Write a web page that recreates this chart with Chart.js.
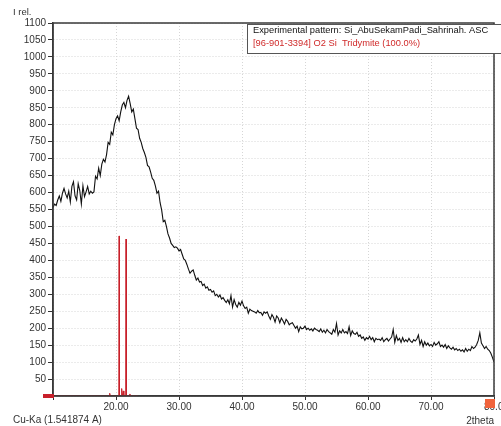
<!DOCTYPE html>
<html lang="en">
<head>
<meta charset="UTF-8">
<title>XRD pattern Si_AbuSekamPadi_Sahrinah</title>
<script src="https://cdn.jsdelivr.net/npm/chart.js"></script>
<style>
    html, body { margin: 0; padding: 0; background: #fff; }
    #wrap { width: 501px; height: 426px; position: relative; }
</style>
</head>
<body>
<div id="wrap"><canvas id="xrdChart"></canvas></div>
<script>
    // measured pattern: 2theta from 10 to 80 deg, one value every 0.25 deg
    const thetaStart = 10;
    const thetaStep = 0.25;
    const intensity = [
        556, 566, 562, 578,  590, 574, 598, 612,  596, 584, 604, 572,  618, 632, 590, 578,
        626, 606, 566, 620,  588, 602, 618, 596,  604, 598, 602, 648,  640, 672, 650, 684,
        698, 690, 712, 748,  742, 778, 770, 800,  818, 826, 812, 838,  858, 866, 850, 872,
        884, 862, 838, 846,  818, 790, 786, 760,  748, 730, 718, 704,  680, 676, 660, 642,
        636, 620, 598, 604,  570, 548, 514, 518,  500, 478, 466, 450,  444, 438, 440, 436,
        428, 432, 418, 404,  400, 388, 374, 362,  368, 372, 356, 342,  348, 336, 338, 326,
        330, 318, 322, 312,  314, 306, 310, 296,  300, 292, 298, 286,  290, 282, 276, 284,
        272, 296, 262, 284,  270, 262, 276, 268,  280, 266, 258, 262,  244, 256, 252, 250,
        248, 244, 252, 246,  246, 238, 248, 244,  248, 236, 226, 240,  232, 218, 236, 230,
        216, 230, 222, 212,  226, 220, 210, 214,  216, 208, 200, 206,  190, 204, 198, 200,
        206, 196, 200, 194,  198, 192, 200, 196,  194, 190, 198, 188,  194, 186, 196, 190,
        186, 182, 196, 188,  214, 180, 192, 186,  196, 186, 190, 184,  204, 178, 192, 184,
        182, 188, 176, 180,  170, 174, 164, 172,  168, 176, 166, 172,  160, 170, 166, 168,
        164, 172, 160, 166,  170, 162, 168, 174,  196, 158, 178, 164,  170, 158, 172, 160,
        166, 160, 170, 162,  158, 166, 162, 168,  180, 152, 164, 146,  160, 150, 156, 148,
        152, 146, 158, 150,  154, 160, 146, 150,  144, 152, 140, 148,  142, 138, 144, 136,
        140, 134, 138, 132,  136, 130, 140, 132,  138, 134, 146, 140,  144, 152, 164, 186,
        156, 148, 140, 146,  138, 134, 126, 114,
        100
    ];

    // reference card [96-901-3394] O2 Si Tridymite, drawn as sticks
    const refTheta     = [10, 18.9, 19.0, 19.1, 20.45, 20.5, 20.55, 20.85, 20.9, 21.0, 21.15, 21.25, 21.55, 21.6, 21.65, 22.1, 22.2, 22.3, 23.5];
    const refIntensity = [0,  0,    8,    0,    0,     472,  0,     0,     22,   0,    15,    0,     0,     463,  0,     0,    6,    0,    0];

    // 80.00 is drawn by hand, half hidden under the orange marker
    const xTicksShown = [20, 30, 40, 50, 60, 70];

    const patternPoints = intensity.map((v, i) => ({ x: thetaStart + i * thetaStep, y: v }));
    const refPoints = refTheta.map((t, i) => ({ x: t, y: refIntensity[i] }));

    const FONT = '"Liberation Sans", Arial, sans-serif';

    // frame, header texts, legend box, little markers of the original software
    const decor = {
        id: 'decor',
        afterDraw(chart) {
            const ctx = chart.ctx;
            const a = chart.chartArea;
            ctx.save();
            ctx.strokeStyle = '#3a3a3a';
            ctx.lineWidth = 1.5;
            ctx.strokeRect(a.left, a.top, a.right - a.left, a.bottom - a.top);

            ctx.fillStyle = '#333';
            ctx.font = '10px ' + FONT;
            ctx.textBaseline = 'middle';
            ctx.textAlign = 'left';
            ctx.fillText('80.00', a.right - 10, 407);

            ctx.fillStyle = '#c8202a';
            ctx.fillRect(a.left - 10, a.bottom - 2, 11, 4);
            ctx.fillStyle = '#f0643c';
            ctx.fillRect(a.right - 9, a.bottom + 3, 10, 9);

            ctx.fillStyle = '#333';
            ctx.font = '9.5px ' + FONT;
            ctx.fillText('I rel.', 13, 12);
            ctx.font = '10px ' + FONT;
            ctx.fillText('Cu-Ka (1.541874 A)', 13, 420);
            ctx.textAlign = 'right';
            ctx.fillText('2theta', a.right, 421);

            // legend box
            ctx.fillStyle = '#fff';
            ctx.fillRect(247, 24, 260, 29);
            ctx.strokeStyle = '#555';
            ctx.lineWidth = 1;
            ctx.strokeRect(247.5, 24.5, 260, 29);
            ctx.textAlign = 'left';
            ctx.font = '9.3px ' + FONT;
            ctx.fillStyle = '#111';
            ctx.fillText('Experimental pattern: Si_AbuSekamPadi_Sahrinah. ASC', 253, 30);
            ctx.fillStyle = '#d02a2a';
            ctx.fillText('[96-901-3394] O2 Si  Tridymite (100.0%)', 253, 43);
            ctx.restore();
        }
    };

    new Chart(document.getElementById('xrdChart'), {
        type: 'line',
        data: {
            datasets: [
                {
                    label: '[96-901-3394] O2 Si Tridymite (100.0%)',
                    data: refPoints,
                    borderColor: '#c8202a',
                    borderWidth: 1,
                    pointRadius: 0,
                    tension: 0,
                    order: 2
                },
                {
                    label: 'Experimental pattern: Si_AbuSekamPadi_Sahrinah. ASC',
                    data: patternPoints,
                    borderColor: '#111',
                    borderWidth: 1.1,
                    pointRadius: 0,
                    tension: 0,
                    order: 1
                }
            ]
        },
        options: {
            responsive: true,
            maintainAspectRatio: false,
            animation: false,
            layout: {
                autoPadding: false,
                padding: { top: 23, right: 7, left: 0, bottom: 0 }
            },
            plugins: {
                legend: { display: false },
                tooltip: { enabled: false }
            },
            scales: {
                x: {
                    type: 'linear',
                    min: 10,
                    max: 80,
                    afterFit(scale) { scale.height = 30; },
                    ticks: {
                        stepSize: 10,
                        maxRotation: 0,
                        autoSkip: false,
                        padding: 1,
                        color: '#333',
                        font: { size: 10, family: FONT },
                        callback: v => xTicksShown.includes(v) ? v.toFixed(2) : ''
                    },
                    grid: {
                        color: '#d6d6d6',
                        tickColor: '#333',
                        tickLength: 4,
                        tickBorderDash: []
                    },
                    border: { color: '#3a3a3a', width: 1.5, dash: [1, 2] }
                },
                y: {
                    min: 0,
                    max: 1100,
                    afterFit(scale) { scale.width = 53; },
                    ticks: {
                        stepSize: 50,
                        padding: 2,
                        color: '#333',
                        font: { size: 10, family: FONT },
                        callback: v => v === 0 ? '' : v
                    },
                    grid: {
                        color: '#d6d6d6',
                        tickColor: '#333',
                        tickLength: 5,
                        tickBorderDash: []
                    },
                    border: { color: '#3a3a3a', width: 1.5, dash: [1, 2] }
                }
            }
        },
        plugins: [decor]
    });
</script>
</body>
</html>
